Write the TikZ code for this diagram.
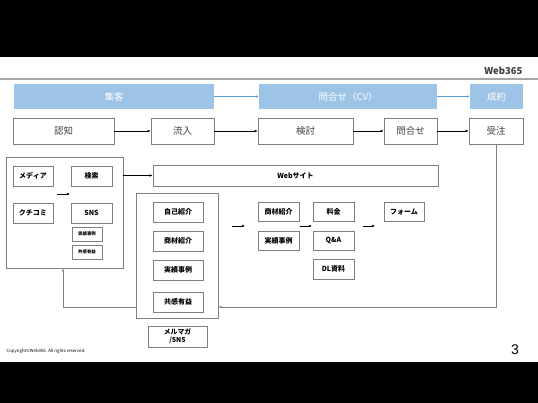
\documentclass[tikz,border=0pt]{standalone}
\usepackage{fontspec}
\setmainfont{Noto Sans CJK JP}
\newfontfamily\numfont{Liberation Sans}
\usetikzlibrary{arrows.meta}
\definecolor{boxgray}{HTML}{7F7F7F}
\definecolor{barblue}{HTML}{9DC3E6}
\definecolor{arrblue}{HTML}{5B9BD5}
\definecolor{linegray}{HTML}{A6A6A6}
\definecolor{txtgray}{HTML}{404040}
\tikzset{
  bx/.style={draw=boxgray, line width=0.7pt, inner sep=0pt, align=center},
  lbl/.style={bx, font=\fontsize{7}{7.5}\selectfont\bfseries},
  sml/.style={bx, font=\fontsize{4.4}{5}\selectfont\bfseries, minimum width=30, minimum height=14},
  flow/.style={bx, text=txtgray, font=\fontsize{9.5}{11}\selectfont, minimum height=26},
  bar/.style={fill=barblue, inner sep=0pt, text=white, font=\fontsize{9.5}{11}\selectfont, minimum height=25},
  arr/.style={draw=black, line width=0.5pt, -{Latex[length=3pt,width=2.6pt]}},
  barr/.style={draw=arrblue, line width=0.6pt, -{Latex[length=3pt,width=2.6pt]}}
}
\begin{document}
\begin{tikzpicture}[x=1pt,y=-1pt]
\useasboundingbox (0,0) rectangle (538,403);
\fill[black] (0,0) rectangle (538,57);
\fill[black] (0,362) rectangle (538,403);
\draw[linegray, line width=1.3pt] (0,79) -- (538,79);
\node[font=\fontsize{9.5}{11}\selectfont\bfseries, text=txtgray, anchor=east] (brand) at (526,71) {Web365};

% bars
\node[bar, minimum width=200] (b1) at (114,96.5) {集客};
\node[bar, minimum width=178] (b2) at (348,96.5) {問合せ（CV）};
\node[bar, minimum width=53] (b3) at (496.5,96.5) {成約};
\draw[barr] (b1) -- (b2);
\draw[barr] (b2) -- (b3);

% flow row
\node[flow, minimum width=101] (r1) at (63.5,131) {認知};
\node[flow, minimum width=63] (r2) at (182.5,131) {流入};
\node[flow, minimum width=95] (r3) at (305.5,131) {検討};
\node[flow, minimum width=53] (r4) at (410.5,131) {問合せ};
\node[flow, minimum width=54] (r5) at (496,131) {受注};
\draw[arr] (r1) -- (r2);
\draw[arr] (r2) -- (r3);
\draw[arr] (r3) -- (r4);
\draw[arr] (r4) -- (r5);

% left group
\node[bx, minimum width=117, minimum height=111] (grp) at (64.5,212.5) {};
\node[lbl, minimum width=40, minimum height=20] (media) at (33,176) {メディア};
\node[lbl, minimum width=41, minimum height=20] (kensaku) at (91.5,176) {検索};
\node[lbl, minimum width=40, minimum height=20] (kuchi) at (33,213) {クチコミ};
\node[lbl, minimum width=41, minimum height=20] (sns) at (91.5,213) {SNS};
\node[sml] (s1) at (87,234) {実績事例};
\node[sml] (s2) at (87,252) {共感有益};
\coordinate (a1s) at (57,194);
\coordinate (a1e) at (70,194);
\draw[arr] (a1s) -- (a1e);

% website
\node[lbl, minimum width=285, minimum height=21] (web) at (295.5,175.5) {Webサイト};
\draw[arr] (grp.east |- web.west) -- (web.west);

% middle group
\node[bx, minimum width=82, minimum height=125] (mid) at (177,255.5) {};
\node[lbl, minimum width=50, minimum height=20] (m1) at (178,212) {自己紹介};
\node[lbl, minimum width=50, minimum height=20] (m2) at (178,241) {商材紹介};
\node[lbl, minimum width=50, minimum height=20] (m3) at (178,270) {実績事例};
\node[lbl, minimum width=50, minimum height=20] (m4) at (178,302) {共感有益};
\node[lbl, minimum width=59, minimum height=21, font=\fontsize{6.8}{7.8}\selectfont\bfseries] (mail) at (177.5,336.5) {メルマガ\\/SNS};

% right side
\node[lbl, minimum width=41, minimum height=19] (p1) at (278.5,212) {商材紹介};
\node[lbl, minimum width=41, minimum height=19] (p2) at (278.5,240.5) {実績事例};
\node[lbl, minimum width=41, minimum height=19] (q1) at (333.5,212) {料金};
\node[lbl, minimum width=41, minimum height=19] (q2) at (333.5,240.5) {Q\&A};
\node[lbl, minimum width=41, minimum height=20] (q3) at (333.5,269) {DL資料};
\node[lbl, minimum width=40, minimum height=19] (form) at (404,212) {フォーム};
\coordinate (a2s) at (232,226); \coordinate (a2e) at (245,226);
\coordinate (a3s) at (300,226); \coordinate (a3e) at (312,226);
\coordinate (a4s) at (363,226); \coordinate (a4e) at (375,226);
\draw[arr] (a2s) -- (a2e);
\draw[arr] (a3s) -- (a3e);
\draw[arr] (a4s) -- (a4e);

% feedback loop
\coordinate (c1) at (496,307);
\coordinate (c2) at (63,307);
\draw[arr, draw=boxgray] (r5.south) -- (c1) -- (mid.east |- c1);
\draw[arr, draw=boxgray] (mid.west |- c1) -- (c2) -- (c2 |- grp.south);

% footer
\node[anchor=west, font=\fontsize{4.3}{5}\selectfont] (copy) at (3,351) {Copyright©Web365. All rights reserved.};
\node[font=\numfont\fontsize{14}{16}\selectfont] (pg) at (515,350) {3};
\end{tikzpicture}
\end{document}
